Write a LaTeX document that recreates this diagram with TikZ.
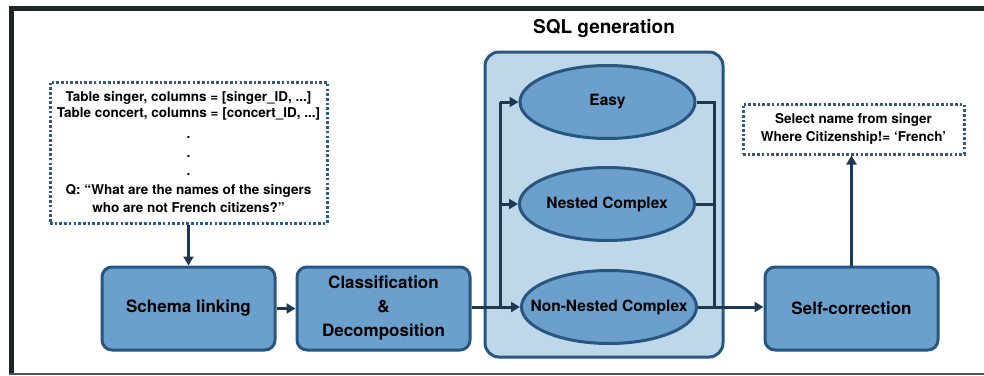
\documentclass[tikz,border=0pt]{standalone}
\usepackage{fontspec}
\setmainfont{TeX Gyre Heros}
\usetikzlibrary{arrows.meta,shapes.geometric}

\definecolor{boxfill}{RGB}{107,160,204}
\definecolor{boxline}{RGB}{40,86,128}
\definecolor{panelfill}{RGB}{190,216,234}
\definecolor{flow}{RGB}{30,56,82}
\definecolor{dotline}{RGB}{45,90,135}
\definecolor{framecol}{RGB}{30,38,42}

% label whose width does not enlarge the ellipse around it
\newcommand{\ovallabel}[1]{\makebox[0pt]{#1}}

\begin{document}
\begin{tikzpicture}[x=1pt,y=-1pt,
  stage/.style={draw=boxline, fill=boxfill, line width=3pt, rounded corners=10pt,
    minimum width=173pt, minimum height=83pt, inner sep=0pt, align=center,
    font=\fontsize{17}{24}\selectfont\bfseries, text=black},
  kind/.style={ellipse, draw=boxline, fill=boxfill, line width=3pt,
    minimum width=175pt, minimum height=73pt, inner sep=0pt,
    font=\fontsize{15.5}{18}\selectfont\bfseries, text=black},
  note/.style={draw=dotline, line width=3pt, dash pattern=on 2.6pt off 2.1pt,
    inner sep=0pt, align=center, font=\fontsize{13.5}{16}\selectfont\bfseries},
  link/.style={draw=flow, line width=3pt},
  arr/.style={link, -{Triangle[length=9pt,width=10pt]}},
]
\useasboundingbox (0,0) rectangle (984,375);

% outer frame
\fill[framecol] (9,6) rectangle (984,11);
\fill[framecol] (9,6) rectangle (14,374);
\fill[framecol!80] (9,372.5) rectangle (984,374.5);

% SQL generation panel
\node[font=\fontsize{19}{22}\selectfont\bfseries] (title) at (604,28) {SQL generation};
\node[draw=boxline, fill=panelfill, line width=3pt, rounded corners=14pt,
      minimum width=238pt, minimum height=305pt, inner sep=0pt] (panel) at (604,204.5) {};

% question and schema
\node[note, minimum width=277pt, minimum height=141pt] (input) at (188.5,152.5)
  {Table singer, columns = [singer\_ID, ...]\\
   Table concert, columns = [concert\_ID, ...]\\[5pt]
   .\\[3pt]
   .\\[2pt]
   .\\[3pt]
   Q: “What are the names of the singers\\[2pt]
   who are not French citizens?”};

% pipeline stages
\node[stage] (schema) at (188.5,308.5) {Schema linking};
\node[stage] (classif) at (383.5,308.5) {Classification\\\&\\Decomposition};
\node[stage] (selfcorr) at (851.5,308.5) {Self-correction};

% query classes
\node[kind] (easy) at (607.5,102) {\ovallabel{Easy}};
\node[kind] (nested) at (607,204) {\ovallabel{Nested Complex}};
\node[kind] (nonnested) at (609,307) {\ovallabel{Non-Nested Complex}};

% final SQL
\node[note, minimum width=221pt, minimum height=50pt, font=\fontsize{13.5}{18}\selectfont\bfseries]
  (output) at (853.5,129) {Select name from singer\\Where Citizenship!= ‘French’};

% bus lines
\coordinate (busL) at (500,0);
\coordinate (busR) at (714,0);

% connectors
\draw[arr] (input) -- (schema);
\draw[arr] (schema) -- (classif);
\draw[arr] (classif.east |- nonnested.west) -- (nonnested.west);
\draw[link] (busL |- nonnested.west) -- (busL |- easy.west);
\draw[arr] (busL |- easy.west) -- (easy.west);
\draw[arr] (busL |- nested.west) -- (nested.west);
\draw[link] (easy.east) -- (busR |- easy.east) -- (busR |- nonnested.east);
\draw[link] (nested.east) -- (busR |- nested.east);
\draw[arr] (nonnested.east) -- (nonnested.east -| selfcorr.west);
\draw[arr] (selfcorr.north) -- (selfcorr.north |- output.south);
\end{tikzpicture}
\end{document}
